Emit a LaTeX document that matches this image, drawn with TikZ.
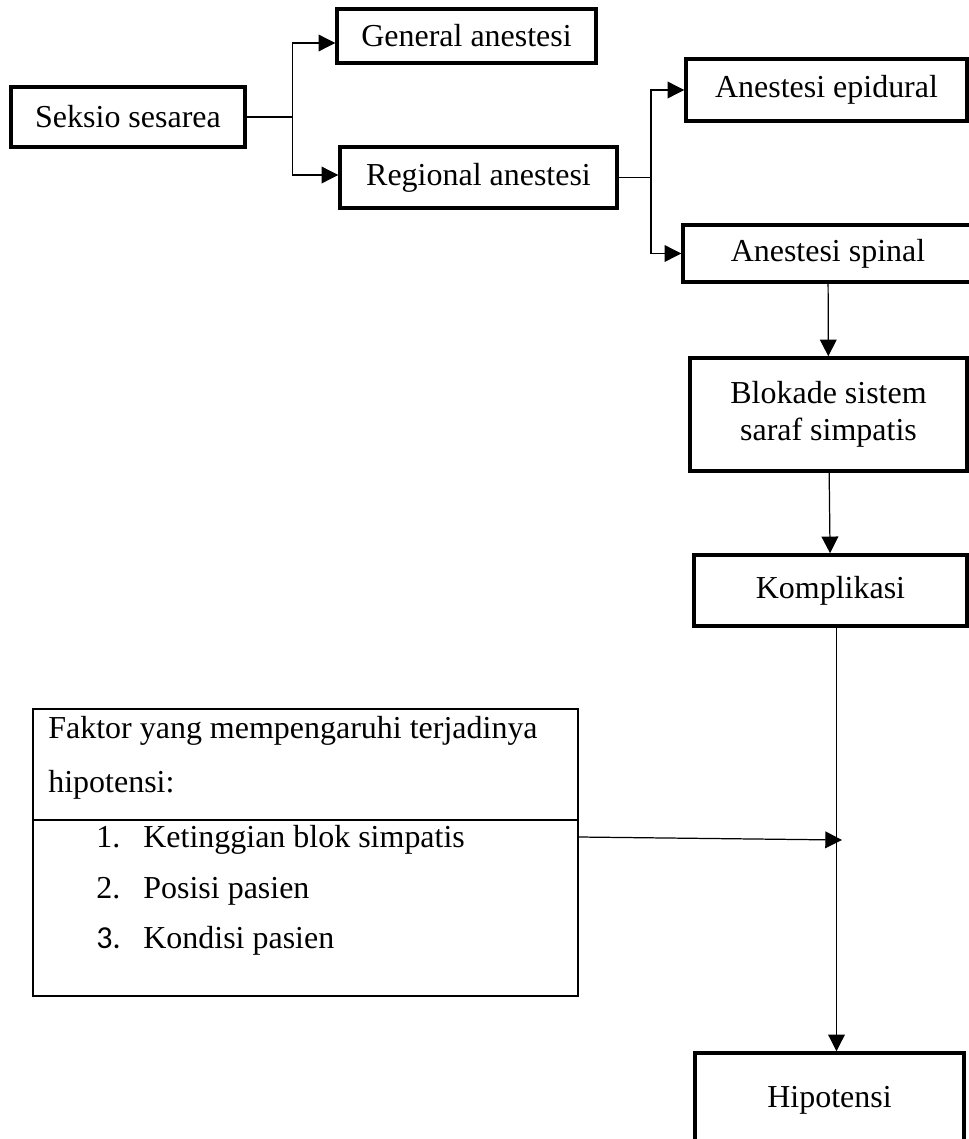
\documentclass[tikz,border=0pt]{standalone}
\usepackage{fontspec}
\setmainfont{Liberation Serif}
\newfontfamily\calibri{Carlito}
\usetikzlibrary{arrows.meta}

\begin{document}
\begin{tikzpicture}[x=0.02cm,y=-0.02cm]
   \tikzset{Box/.style={draw,line width=2pt,inner sep=0pt,align=center,font=\fontsize{18.2}{21}\selectfont},
            Panel/.style={draw,line width=1pt,inner sep=0pt,minimum width=10.9cm,minimum height=5.74cm},
            Txt/.style={anchor=base west,inner sep=0pt,font=\fontsize{18.2}{21}\selectfont},
            EdgeStyle/.style={->,line width=0.7pt},
            >={Triangle[length=9.5pt,width=9.5pt]}}
   \useasboundingbox (0,0) rectangle (968,1139);
   \node[Box,minimum width=4.68cm,minimum height=1.2cm] (seksio) at (128,117) {Seksio sesarea};
   \node[Box,minimum width=5.18cm,minimum height=1.08cm] (general) at (466.5,36) {General anestesi};
   \node[Box,minimum width=5.54cm,minimum height=1.22cm] (regional) at (478.5,177.5) {Regional anestesi};
   \node[Box,minimum width=5.62cm,minimum height=1.24cm] (epidural) at (826.5,90) {Anestesi epidural};
   \node[Box,minimum width=5.8cm,minimum height=1.14cm] (spinal) at (828,253.5) {Anestesi spinal};
   \node[Box,minimum width=5.54cm,minimum height=2.26cm] (blokade) at (828.5,414.5) {Blokade sistem\\saraf simpatis};
   \node[Box,minimum width=5.46cm,minimum height=1.42cm] (komplikasi) at (830.5,590.5) {Komplikasi};
   \node[Box,minimum width=5.38cm,minimum height=1.88cm] (hipotensi) at (829.5,1100) {Hipotensi};
   \node[Panel] (faktor) at (305.5,852.5) {};
   \node[Txt] (head1) at (48,738) {Faktor yang mempengaruhi terjadinya};
   \node[Txt] (head2) at (48,792) {hipotensi:};
   \node[Txt] (n1) at (96,847) {1.};
   \node[Txt] (t1) at (143,847) {Ketinggian blok simpatis};
   \node[Txt] (n2) at (96,898) {2.};
   \node[Txt] (t2) at (143,898) {Posisi pasien};
   \node[Txt,font=\calibri\fontsize{18.2}{21}\selectfont] (n3) at (96,948) {3.};
   \node[Txt] (t3) at (143,948) {Kondisi pasien};
   \coordinate (cut) at (0,820);
   \draw[line width=1pt] (faktor.west |- cut) -- (faktor.east |- cut);
   \coordinate (j1) at (292.5,117);
   \coordinate (j2) at (651,177.5);
   \draw[line width=0.7pt] (seksio.east) -- (j1);
   \draw[EdgeStyle] (j1) |- ([yshift=-0.14cm]general.west);
   \draw[EdgeStyle] (j1) |- ([yshift=0.05cm]regional.west);
   \draw[line width=0.7pt] (regional.east) -- (j2);
   \draw[EdgeStyle] (j2) |- (epidural.west);
   \draw[EdgeStyle] (j2) |- (spinal.west);
   \draw[EdgeStyle] (spinal) -- (blokade);
   \draw[EdgeStyle] (blokade) -- (komplikasi);
   \coordinate (m) at (836.5,0);
   \draw[EdgeStyle] (komplikasi.south -| m) -- (hipotensi.north -| m);
   \coordinate (out) at (0,837);
   \coordinate (hit) at (842,840);
   \draw[EdgeStyle] (faktor.east |- out) -- (hit);
\end{tikzpicture}
\end{document}
